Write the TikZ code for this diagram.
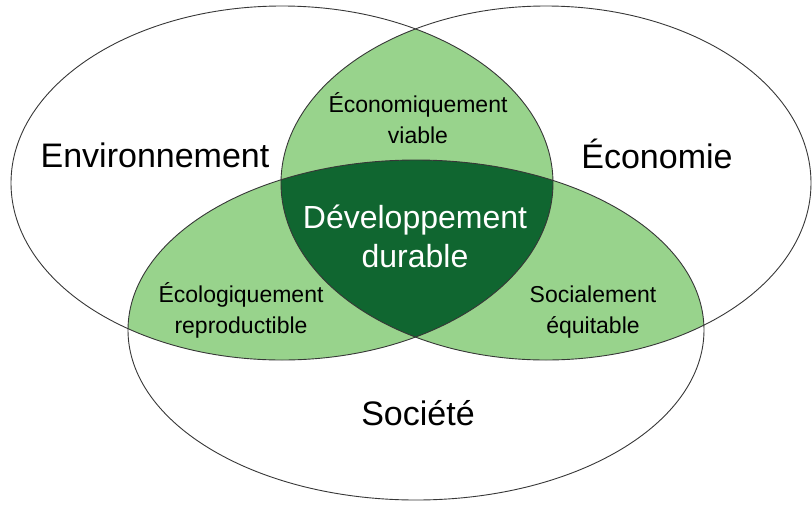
\documentclass[tikz,border=0pt]{standalone}
\usepackage{fontspec}
\setmainfont{Liberation Sans}
\usepackage{xcolor}
\usetikzlibrary{math}

\definecolor{lensgreen}{RGB}{152,211,140}
\definecolor{coregreen}{RGB}{16,102,48}
\definecolor{rimgray}{RGB}{55,55,55}

\begin{document}
\begin{tikzpicture}[x=1pt,y=-1pt,line width=0.9pt,
  rim/.style={draw=rimgray},
  bigword/.style={font=\fontsize{34}{40}\selectfont, anchor=base},
  lensword/.style={font=\fontsize{23}{31}\selectfont, align=center},
  coreword/.style={font=\fontsize{32}{39}\selectfont, align=center, text=white}]

  \tikzmath{
    \rxEnv = 271; % half width of the Environnement ellipse
    \ryEnv = 177; % half height of the Environnement ellipse
    \rxEco = 265; % half width of the Economie ellipse
    \ryEco = 177; % half height of the Economie ellipse
    \rxSoc = 288; % half width of the Societe ellipse
    \rySoc = 170; % half height of the Societe ellipse
  }

  \useasboundingbox (0,0) rectangle (812,504);

  % Centres of the three ellipses
  \coordinate (Env) at (282,183);
  \coordinate (Eco) at (546,183);
  \coordinate (Soc) at (416,330);

  % Overlaps of two ellipses
  \begin{scope}
    \clip (Env) ellipse [x radius=\rxEnv, y radius=\ryEnv];
    \fill[lensgreen] (Eco) ellipse [x radius=\rxEco, y radius=\ryEco];
    \fill[lensgreen] (Soc) ellipse [x radius=\rxSoc, y radius=\rySoc];
  \end{scope}
  \begin{scope}
    \clip (Eco) ellipse [x radius=\rxEco, y radius=\ryEco];
    \fill[lensgreen] (Soc) ellipse [x radius=\rxSoc, y radius=\rySoc];
  \end{scope}

  % Overlap of all three
  \begin{scope}
    \clip (Env) ellipse [x radius=\rxEnv, y radius=\ryEnv];
    \clip (Eco) ellipse [x radius=\rxEco, y radius=\ryEco];
    \fill[coregreen] (Soc) ellipse [x radius=\rxSoc, y radius=\rySoc];
  \end{scope}

  % Outlines
  \draw[rim] (Env) ellipse [x radius=\rxEnv, y radius=\ryEnv];
  \draw[rim] (Eco) ellipse [x radius=\rxEco, y radius=\ryEco];
  \draw[rim] (Soc) ellipse [x radius=\rxSoc, y radius=\rySoc];

  % Labels of the three spheres
  \node[bigword] (envlabel) at (155,167) {Environnement};
  \node[bigword] (ecolabel) at (657,168) {Économie};
  \node[bigword] (soclabel) at (418,425) {Société};

  % Labels of the overlaps
  \node[lensword] (viable)   at (418,118) {Économiquement\\viable};
  \node[lensword] (ecolo)    at (241,310) {Écologiquement\\reproductible};
  \node[lensword] (social)   at (593,312) {Socialement\\équitable};
  \node[coreword] (durable)  at (415,236) {Développement\\durable};

\end{tikzpicture}
\end{document}
